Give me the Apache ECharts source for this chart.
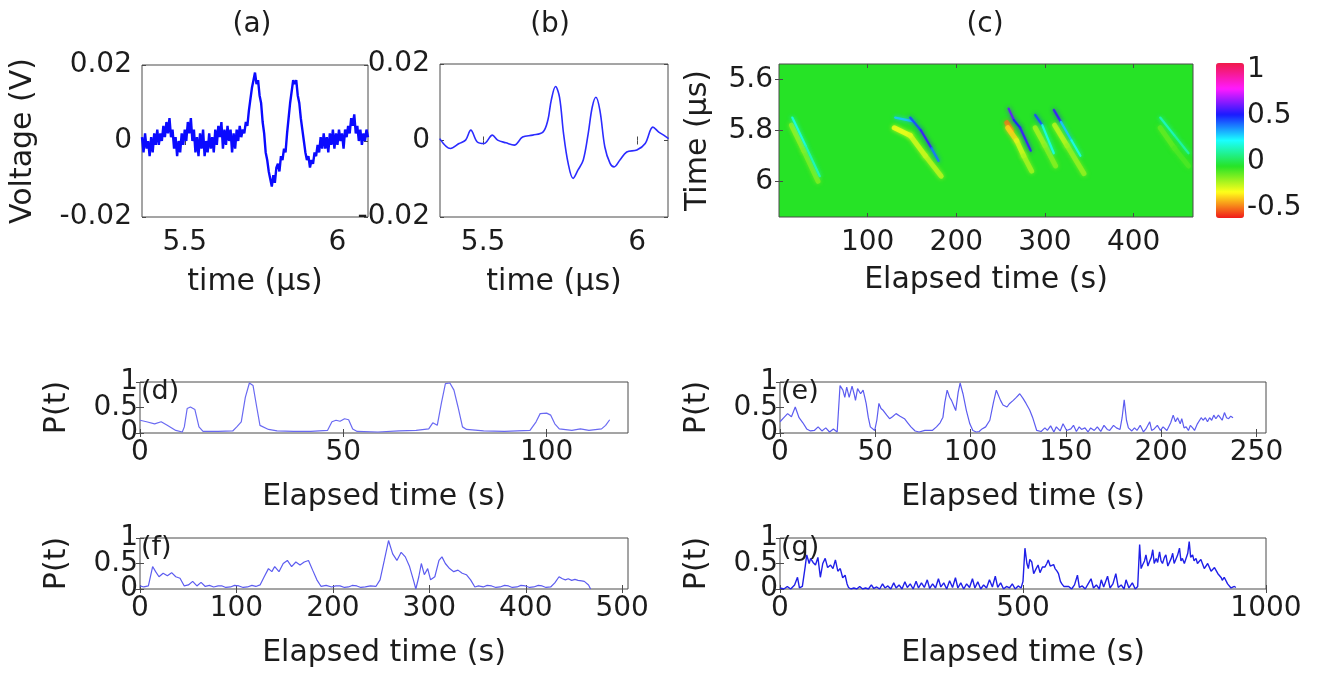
<!DOCTYPE html>
<html><head><meta charset="utf-8">
<script src="https://cdn.jsdelivr.net/npm/echarts@6/dist/echarts.min.js"></script>
<style>html,body{margin:0;padding:0;background:#fff}#c{width:1326px;height:675px}</style>
</head><body><div id="c"></div>
<script>
// ---------- data ----------
// (a) raw voltage trace [time µs, V]
const signalRaw = [[5.360,0.001],[5.365,-0.003],[5.370,0.002],[5.375,-0.002],[5.380,0.000],[5.385,-0.004],[5.390,0.001],[5.395,-0.003],[5.400,0.002],[5.405,-0.001],[5.410,0.003],[5.415,-0.001],[5.420,0.002],[5.425,0.000],[5.430,0.004],[5.435,0.001],[5.440,0.005],[5.445,0.002],[5.450,0.006],[5.455,0.001],[5.460,0.003],[5.465,-0.002],[5.470,0.001],[5.475,-0.004],[5.480,0.000],[5.485,-0.003],[5.490,0.002],[5.495,-0.001],[5.500,0.003],[5.505,0.000],[5.510,0.005],[5.515,0.002],[5.520,0.006],[5.525,0.000],[5.530,0.003],[5.535,-0.003],[5.540,0.001],[5.545,-0.004],[5.550,0.002],[5.555,-0.002],[5.560,0.003],[5.565,-0.004],[5.570,0.000],[5.575,-0.003],[5.580,0.002],[5.585,-0.002],[5.590,0.001],[5.595,-0.003],[5.600,0.003],[5.605,-0.001],[5.610,0.004],[5.615,0.001],[5.620,0.005],[5.625,-0.002],[5.630,0.003],[5.635,-0.001],[5.640,0.004],[5.645,0.000],[5.650,0.003],[5.655,-0.003],[5.660,0.002],[5.665,-0.002],[5.670,0.003],[5.675,0.000],[5.680,0.004],[5.685,0.001],[5.690,0.003],[5.695,0.002],[5.700,0.005],[5.705,0.004],[5.710,0.008],[5.715,0.011],[5.720,0.014],[5.725,0.016],[5.730,0.018],[5.735,0.015],[5.740,0.016],[5.745,0.012],[5.750,0.010],[5.755,0.005],[5.760,0.002],[5.765,-0.003],[5.770,-0.005],[5.775,-0.008],[5.780,-0.010],[5.785,-0.012],[5.790,-0.009],[5.795,-0.011],[5.800,-0.007],[5.805,-0.006],[5.810,-0.008],[5.815,-0.004],[5.820,-0.005],[5.825,-0.002],[5.830,-0.003],[5.835,0.002],[5.840,0.006],[5.845,0.010],[5.850,0.013],[5.855,0.016],[5.860,0.015],[5.865,0.016],[5.870,0.012],[5.875,0.010],[5.880,0.006],[5.885,0.003],[5.890,0.000],[5.895,-0.003],[5.900,-0.005],[5.905,-0.004],[5.910,-0.007],[5.915,-0.005],[5.920,-0.006],[5.925,-0.003],[5.930,-0.004],[5.935,-0.001],[5.940,-0.003],[5.945,0.001],[5.950,-0.002],[5.955,0.002],[5.960,-0.002],[5.965,0.001],[5.970,-0.003],[5.975,0.002],[5.980,-0.001],[5.985,0.003],[5.990,-0.002],[5.995,0.002],[6.000,-0.001],[6.005,0.003],[6.010,0.000],[6.015,0.002],[6.020,-0.002],[6.025,0.003],[6.030,0.001],[6.035,0.004],[6.040,0.002],[6.045,0.006],[6.050,0.004],[6.055,0.007],[6.060,0.002],[6.065,0.004],[6.070,0.000],[6.075,0.003],[6.080,-0.001],[6.085,0.002],[6.090,0.000],[6.095,0.003],[6.100,0.001]];
// (b) filtered trace
const signalFiltered = [[5.359,0.0005],[5.394,-0.0021],[5.422,-0.0008],[5.443,0.0001],[5.460,0.0027],[5.481,-0.0004],[5.503,-0.0008],[5.530,0.0014],[5.547,0.0001],[5.574,-0.0006],[5.601,-0.0012],[5.628,0.0009],[5.661,0.0014],[5.694,0.0022],[5.710,0.0053],[5.721,0.0105],[5.735,0.0141],[5.748,0.0113],[5.761,0.0018],[5.776,-0.0060],[5.792,-0.0099],[5.808,-0.0077],[5.825,-0.0051],[5.841,0.0018],[5.854,0.0087],[5.866,0.0113],[5.879,0.0079],[5.895,-0.0017],[5.912,-0.0060],[5.925,-0.0069],[5.944,-0.0051],[5.966,-0.0030],[5.999,-0.0025],[6.026,-0.0008],[6.051,0.0035],[6.070,0.0022],[6.086,0.0014],[6.102,0.0005]];
// (c) streak segments [elapsed s, time µs, elapsed s, time µs, value]
const streakBands = [[14,5.78,28,5.88,-0.2],[28,5.88,44,6.0,-0.17],[130,5.79,148,5.82,-0.33],[148,5.82,165,5.9,-0.28],[165,5.9,183,5.98,-0.25],[257,5.77,262,5.8,-0.5],[258,5.79,268,5.84,-0.38],[268,5.84,276,5.9,-0.28],[276,5.9,285,5.96,-0.22],[289,5.79,300,5.86,-0.22],[300,5.86,312,5.94,-0.18],[311,5.78,325,5.86,-0.25],[325,5.86,344,5.97,-0.2],[430,5.79,446,5.87,-0.13],[446,5.87,462,5.94,-0.1]];
const streakLines = [[15,5.75,30,5.86,0.2],[30,5.86,46,5.98,0.15],[131,5.75,152,5.765,0.3],[148,5.75,160,5.8,0.45],[160,5.8,172,5.87,0.55],[172,5.87,180,5.92,0.4],[259,5.715,265,5.76,0.6],[265,5.76,272,5.79,0.5],[272,5.79,284,5.88,0.55],[289,5.74,297,5.78,0.45],[297,5.78,310,5.89,0.2],[310,5.72,318,5.767,0.55],[318,5.767,330,5.84,0.3],[330,5.84,340,5.9,0.2],[430,5.75,446,5.82,0.15],[446,5.82,462,5.89,0.12]];
const colorbarRange = [-0.61, 1.07];
// (d)-(g) P(t) traces [elapsed s, P]
const probD = [[0,0.25],[1.6,0.22],[3.6,0.18],[5.2,0.22],[6.7,0.15],[8.8,0.05],[10.4,0.02],[10.9,0.12],[11.6,0.48],[12.4,0.51],[13.5,0.46],[14.5,0.12],[15.5,0.03],[19.2,0.03],[22.8,0.04],[23.8,0.12],[24.9,0.22],[25.9,0.7],[26.9,0.98],[27.8,0.93],[28.7,0.51],[29.5,0.15],[31.6,0.07],[33.7,0.04],[37.8,0.03],[42,0.03],[46.1,0.05],[47.2,0.22],[48.2,0.25],[49.2,0.23],[50.3,0.28],[51.3,0.26],[52.3,0.08],[53.4,0.03],[58.5,0.02],[63.7,0.04],[67.9,0.05],[71,0.08],[72,0.2],[73.1,0.15],[74.1,0.58],[75.1,0.97],[76.2,0.98],[77.2,0.84],[78.2,0.51],[79.3,0.12],[80.3,0.07],[84.5,0.04],[89.6,0.03],[95.9,0.05],[97.4,0.22],[98.4,0.38],[100,0.39],[101,0.35],[102,0.18],[103.1,0.08],[106.2,0.05],[108.3,0.08],[110.4,0.05],[113.5,0.08],[114.5,0.15],[115.5,0.26]];
const probE = [[0,0.22],[2,0.3],[4,0.38],[6,0.32],[8,0.51],[10,0.3],[12,0.2],[14,0.08],[16,0.04],[18,0.05],[20,0.12],[22,0.04],[24,0.1],[26,0.02],[28,0.08],[30,0.02],[31.5,0.93],[33,0.84],[34,0.7],[35,0.9],[36.3,0.7],[37.8,0.92],[39,0.75],[39.6,0.64],[40.7,0.87],[42.3,0.77],[43.6,0.84],[44.5,0.7],[45.2,0.58],[46.3,0.31],[47.4,0.12],[49.7,0.05],[50.8,0.25],[51.9,0.58],[53,0.48],[54.2,0.44],[56,0.35],[57.5,0.28],[59,0.32],[60.9,0.38],[63,0.33],[65.3,0.28],[67,0.2],[68.7,0.12],[70.9,0.04],[73,0.02],[76,0.05],[79.9,0.05],[82.1,0.12],[84,0.2],[85.5,0.31],[86.5,0.6],[87.7,0.84],[89,0.7],[90,0.64],[91,0.55],[92.2,0.44],[93.5,0.8],[94.5,0.98],[96,0.77],[97.8,0.44],[99.6,0.18],[101.2,0.05],[103,0.02],[104.5,0.03],[106,0.08],[107.9,0.12],[110.1,0.25],[112,0.6],[113.5,0.84],[115.7,0.64],[117,0.55],[119.1,0.51],[120.5,0.58],[122.4,0.64],[124,0.7],[125.8,0.77],[127.5,0.68],[129.1,0.58],[131,0.45],[132.5,0.31],[134.7,0.05],[137,0.03],[139,0.1],[140.3,0.05],[142,0.14],[143.7,0.02],[145,0.12],[147,0.04],[148.5,0.18],[150.4,0.05],[152.6,0.08],[154,0.15],[155.5,0.03],[157,0.12],[158.2,0.07],[160,0.1],[161.6,0.02],[163,0.1],[164.9,0.05],[166.5,0.12],[168.3,0.03],[170,0.15],[171.7,0.07],[173,0.05],[175,0.15],[176.5,0.1],[178.4,0.07],[179.5,0.3],[180.6,0.65],[181.8,0.25],[182.8,0.1],[184.6,0.04],[186,0.1],[187.3,0.05],[189,0.15],[190.7,0.02],[192,0.08],[194,0.22],[195,0.05],[196.3,0.08],[198,0.15],[199.6,0.05],[201,0.12],[203,0.05],[205,0.2],[206.3,0.35],[207.5,0.22],[208.6,0.3],[210,0.18],[210.8,0.28],[212,0.1],[213.1,0.12],[214.3,0.05],[215.3,0.15],[216.5,0.1],[217.5,0.05],[219,0.18],[219.8,0.2],[221,0.3],[222,0.25],[223.2,0.3],[224.3,0.22],[225.4,0.3],[226.5,0.25],[227.6,0.35],[228.7,0.28],[230,0.35],[231,0.3],[232,0.25],[233.2,0.4],[234.3,0.3],[235.4,0.28],[236.5,0.33],[237.7,0.3]];
const probF = [[0,0.06],[4,0.04],[8.7,0.06],[13.1,0.44],[16.2,0.34],[19.7,0.24],[24,0.31],[28.4,0.26],[32.8,0.32],[37.1,0.24],[41.5,0.21],[45.9,0.06],[50.2,0.08],[54.6,0.15],[59,0.06],[63.3,0.13],[67.7,0.05],[72,0.07],[76.4,0.04],[81,0.06],[85.2,0.06],[89,0.03],[93.9,0.04],[98,0.07],[102.6,0.06],[107,0.03],[111.4,0.04],[116,0.07],[120.1,0.05],[124.5,0.08],[128.8,0.24],[133.2,0.4],[136.7,0.34],[139.7,0.44],[144.1,0.34],[148.5,0.5],[152.8,0.56],[157.2,0.44],[161.6,0.53],[165.9,0.47],[170.3,0.53],[174.7,0.56],[179,0.37],[183.4,0.18],[187.8,0.05],[193,0.07],[198.7,0.04],[203,0.06],[207.4,0.06],[212,0.03],[216.2,0.04],[220,0.07],[224.9,0.06],[229,0.03],[233.6,0.04],[239,0.06],[244.6,0.05],[248.9,0.18],[253.3,0.56],[257.7,0.95],[262,0.69],[266.4,0.56],[270.8,0.72],[275.1,0.63],[279.5,0.44],[283.9,0.15],[286,0.0],[289.1,0.24],[291.7,0.5],[294.8,0.28],[298.3,0.4],[301.3,0.18],[305.7,0.24],[310,0.56],[313.1,0.63],[316.6,0.5],[321,0.4],[325.3,0.34],[329.7,0.37],[334.1,0.31],[338.4,0.28],[342.8,0.18],[347.2,0.04],[351,0.06],[355.9,0.04],[360,0.07],[364.6,0.06],[369,0.03],[373.4,0.04],[378,0.07],[382.1,0.06],[386,0.03],[390.9,0.04],[395,0.07],[399.6,0.06],[404,0.03],[408.3,0.04],[413,0.07],[417,0.06],[421,0.03],[425.8,0.04],[430.1,0.12],[434.5,0.24],[438,0.2],[441.1,0.18],[444,0.2],[447.6,0.17],[451,0.19],[454.2,0.17],[458,0.16],[460.7,0.15],[465.1,0.08],[467.2,0.0]];
const probG = [[0,0.02],[8,0.0],[15,0.05],[22,0.0],[30,0.08],[36,0.23],[40,0.02],[46,0.05],[52,0.45],[55,0.67],[60,0.5],[63,0.6],[68,0.52],[73,0.47],[78,0.62],[83,0.23],[88,0.5],[93,0.6],[98,0.42],[104,0.47],[109,0.4],[114,0.57],[119,0.35],[124,0.4],[129,0.22],[134,0.27],[138,0.1],[141,0.03],[146,0.0],[152,0.02],[158,0.0],[164,0.05],[170,0.0],[176,0.02],[182,0.0],[188,0.08],[193,0.01],[199,0.04],[205,0.0],[211,0.1],[216,0.02],[222,0.06],[228,0.0],[234,0.12],[239,0.02],[245,0.08],[251,0.0],[257,0.14],[262,0.03],[268,0.1],[274,0.0],[280,0.15],[285,0.02],[291,0.12],[297,0.03],[303,0.18],[308,0.01],[314,0.1],[320,0.02],[326,0.2],[331,0.04],[337,0.12],[343,0.0],[349,0.16],[355,0.03],[361,0.22],[366,0.02],[372,0.12],[378,0.0],[384,0.1],[390,0.03],[396,0.2],[401,0.02],[407,0.14],[413,0.0],[419,0.08],[425,0.02],[431,0.18],[437,0.04],[443,0.25],[448,0.03],[454,0.12],[460,0.0],[466,0.05],[472,0.02],[478,0.1],[484,0.0],[490,0.06],[496,0.02],[500,0.15],[504,0.8],[508,0.5],[511,0.4],[514,0.58],[518,0.53],[522,0.3],[526,0.38],[531,0.47],[535,0.32],[540,0.43],[545,0.43],[549,0.5],[552,0.57],[556,0.45],[559,0.43],[563,0.48],[566,0.4],[570,0.35],[573,0.3],[577,0.15],[580,0.1],[584,0.05],[588,0.02],[594,0.05],[600,0.0],[606,0.08],[612,0.27],[616,0.03],[622,0.06],[628,0.0],[634,0.1],[640,0.2],[645,0.02],[651,0.08],[657,0.0],[661,0.18],[666,0.04],[674,0.25],[679,0.02],[685,0.1],[691,0.3],[696,0.03],[702,0.08],[708,0.0],[712,0.18],[718,0.02],[725,0.12],[731,0.0],[736,0.05],[740,0.87],[743,0.4],[746,0.47],[750,0.55],[753,0.67],[757,0.45],[760,0.53],[764,0.62],[767,0.77],[770,0.5],[774,0.6],[777,0.52],[781,0.73],[784,0.55],[787,0.5],[791,0.62],[794,0.67],[798,0.45],[801,0.47],[805,0.6],[808,0.7],[811,0.5],[815,0.53],[818,0.66],[822,0.8],[825,0.55],[828,0.6],[832,0.5],[835,0.47],[839,0.7],[842,0.93],[845,0.62],[849,0.67],[852,0.55],[856,0.6],[859,0.5],[862,0.47],[866,0.58],[869,0.6],[873,0.4],[876,0.43],[880,0.5],[883,0.53],[887,0.35],[890,0.37],[894,0.42],[897,0.4],[901,0.3],[904,0.27],[908,0.22],[910,0.17],[914,0.23],[917,0.2],[921,0.1],[924,0.07],[928,0.02],[931,0.0],[935,0.05],[938,0.03]];
// tick labels
const ticksVoltX = [5.5, 6];
const ticksVoltY = [-0.02, 0, 0.02];
const ticksElapsedC = [100, 200, 300, 400];
const ticksTimeC = [5.6, 5.8, 6];
const ticksColorbar = [-0.5, 0, 0.5, 1];
const ticksP = [0, 0.5, 1];
const ticksPEnds = [0, 1];
const ticksPMid = [0.5];
const ticksD = [0, 50, 100];
const ticksE = [0, 50, 100, 150, 200, 250];
const ticksF = [0, 100, 200, 300, 400, 500];
const ticksG = [0, 500, 1000];
const panelLabels = ['(a)', '(b)', '(c)', '(d)', '(e)', '(f)', '(g)'];

// ---------- layout / style ----------
const FONT = '"DejaVu Sans", Verdana, sans-serif';
const TXT = '#1c1c1c', BOX = '#4a4a4a';
const grids = [
  {left:142, top:65, width:226, height:152},
  {left:440, top:64, width:228, height:153},
  {left:779, top:64, width:414, height:153},
  {left:140, top:382, width:488, height:51},
  {left:780, top:382, width:486, height:51},
  {left:140, top:538, width:488, height:51},
  {left:780, top:538, width:486, height:51},
  {left:1216, top:63, width:28, height:155}
];
const gridOpts = grids.map((g, i) => Object.assign({show: i < 7, borderColor: BOX, borderWidth: 1, backgroundColor: i === 2 ? '#26e326' : 'transparent', containLabel:false, outerBoundsMode:'none'}, g));

const xAxes = [], yAxes = [], extraY = [];
const fmt = v => String(v);
function addPanel(g, xr, xt, yr, yt, xName, yName, o) {
  const labStyle = {fontSize:o.lab, fontFamily:FONT, color:TXT, formatter:fmt, showMinLabel:true, showMaxLabel:true, hideOverlap:false};
  const nameStyle = {fontSize:o.name, fontFamily:FONT, color:TXT};
  const tick = (vals) => ({show:true, inside:true, length:4, customValues:vals, lineStyle:{color:BOX}});
  xAxes.push({gridIndex:g, type:'value', position:'bottom', min:xr[0], max:xr[1], name:xName, nameLocation:'middle', nameGap:o.xGap, nameTextStyle:nameStyle,
    axisLine:{show:false}, splitLine:{show:false}, axisTick:tick(xt), axisLabel:Object.assign({customValues:xt, margin:o.xm}, labStyle)});
  xAxes.push({gridIndex:g, type:'value', position:'top', min:xr[0], max:xr[1], axisLine:{show:false}, splitLine:{show:false}, axisTick:tick(xt), axisLabel:{show:false}});
  yAxes.push({gridIndex:g, type:'value', position:'left', min:yr[0], max:yr[1], inverse:!!o.inv, name:yName, nameLocation:'middle', nameGap:o.yGap, nameTextStyle:nameStyle,
    axisLine:{show:false}, splitLine:{show:false}, axisTick:tick(yt), axisLabel:Object.assign({customValues:o.yLab || yt, margin:o.ym}, labStyle)});
  yAxes.push({gridIndex:g, type:'value', position:'right', min:yr[0], max:yr[1], inverse:!!o.inv, axisLine:{show:false}, splitLine:{show:false}, axisTick:tick(yt), axisLabel:{show:false}});
  if (o.yLabMid) {
    extraY.push({gridIndex:g, type:'value', position:'left', offset:0, min:yr[0], max:yr[1], axisLine:{show:false}, splitLine:{show:false}, axisTick:{show:false},
      axisLabel:Object.assign({customValues:o.yLabMid, margin:o.ym}, labStyle)});
  }
}
const topO = {lab:28, name:30, xGap:50, yGap:104, xm:12, ym:10};
addPanel(0, [5.36, 6.1], ticksVoltX, [-0.02, 0.02], ticksVoltY, 'time (\u03bcs)', 'Voltage (V)', topO);
addPanel(1, [5.36, 6.1], ticksVoltX, [-0.02, 0.02], ticksVoltY, 'time (\u03bcs)', '', topO);
addPanel(2, [0, 467], ticksElapsedC, [5.54, 6.14], ticksTimeC, 'Elapsed time (s)', 'Time (\u03bcs)', Object.assign({}, topO, {inv:true, yGap:66, xGap:48, ym:6}));
const botO = {lab:28, name:30, xGap:49, yGap:68, xm:6, ym:2, yLab:ticksPEnds, yLabMid:ticksPMid};
addPanel(3, [0, 120], ticksD, [0, 1], ticksP, 'Elapsed time (s)', 'P(t)', botO);
addPanel(4, [0, 255], ticksE, [0, 1], ticksP, 'Elapsed time (s)', 'P(t)', botO);
addPanel(5, [0, 506], ticksF, [0, 1], ticksP, 'Elapsed time (s)', 'P(t)', botO);
addPanel(6, [0, 1000], ticksG, [0, 1], ticksP, 'Elapsed time (s)', 'P(t)', botO);
// colorbar label axis
xAxes.push({gridIndex:7, type:'value', min:0, max:1, show:false});
yAxes.push({gridIndex:7, type:'value', position:'right', min:colorbarRange[0], max:colorbarRange[1], axisLine:{show:false}, splitLine:{show:false},
  axisTick:{show:false}, axisLabel:{customValues:ticksColorbar, margin:3, fontSize:28, fontFamily:FONT, color:TXT, formatter:fmt, hideOverlap:false, showMinLabel:true, showMaxLabel:true}});
extraY.forEach(a => yAxes.push(a));

function lineSeries(data, p, color, width, smooth) {
  return {type:'line', data:data, xAxisIndex:2*p, yAxisIndex:2*p, showSymbol:false, smooth:smooth || false, clip:true,
    lineStyle:{color:color, width:width}, itemStyle:{color:color}, animation:false, silent:true};
}
function streakRender(width, alpha) {
  return function(params, api) {
    const p0 = api.coord([api.value(0), api.value(1)]);
    const p1 = api.coord([api.value(2), api.value(3)]);
    return {type:'line', shape:{x1:p0[0], y1:p0[1], x2:p1[0], y2:p1[1]},
      style:{stroke:api.visual('color'), lineWidth:width, lineCap:'round', opacity:alpha, shadowBlur:4, shadowColor:api.visual('color')}};
  };
}
const series = [
  lineSeries(signalRaw, 0, '#0a0aff', 2.4),
  lineSeries(signalFiltered, 1, '#2b2bff', 1.6, 0.35),
  {type:'custom', xAxisIndex:4, yAxisIndex:4, data:streakBands, renderItem:streakRender(5, 0.75), clip:true, animation:false, silent:true},
  {type:'custom', xAxisIndex:4, yAxisIndex:4, data:streakLines, renderItem:streakRender(2.2, 0.9), clip:true, animation:false, silent:true},
  lineSeries(probD, 3, '#6a6af2', 1.2),
  lineSeries(probE, 4, '#5c5cf0', 1.2),
  lineSeries(probF, 5, '#5c5cf0', 1.2),
  lineSeries(probG, 6, '#1f1fe8', 1.4)
];

const labelPos = [[252, 25, 'center'], [550, 25, 'center'], [985, 25, 'center'], [141, 392, 'left'], [781, 392, 'left'], [141, 548, 'left'], [781, 548, 'left']];
const graphics = panelLabels.map((t, i) => ({type:'text', x:labelPos[i][0], y:labelPos[i][1], z:100,
  style:{text:t, font:(i < 3 ? 28 : 27) + 'px ' + FONT, fill:TXT, textAlign:labelPos[i][2], textVerticalAlign:'middle'}}));

const chart = echarts.init(document.getElementById('c'), null, {renderer:'canvas'});
chart.setOption({
  animation:false,
  backgroundColor:'#ffffff',
  grid:gridOpts,
  xAxis:xAxes,
  yAxis:yAxes,
  visualMap:[{type:'continuous', seriesIndex:[2,3], dimension:4, min:colorbarRange[0], max:colorbarRange[1],
    calculable:false, showLabel:false, text:null, left:1216, top:63, itemWidth:28, itemHeight:155, padding:0, orient:'vertical',
    inRange:{color:['#f01a1a','#ffff1a','#26e326','#1affff','#1a1aff','#ff1aff','#f01a4a']}, hoverLink:false}],
  graphic:graphics,
  series:series
});
</script></body></html>
